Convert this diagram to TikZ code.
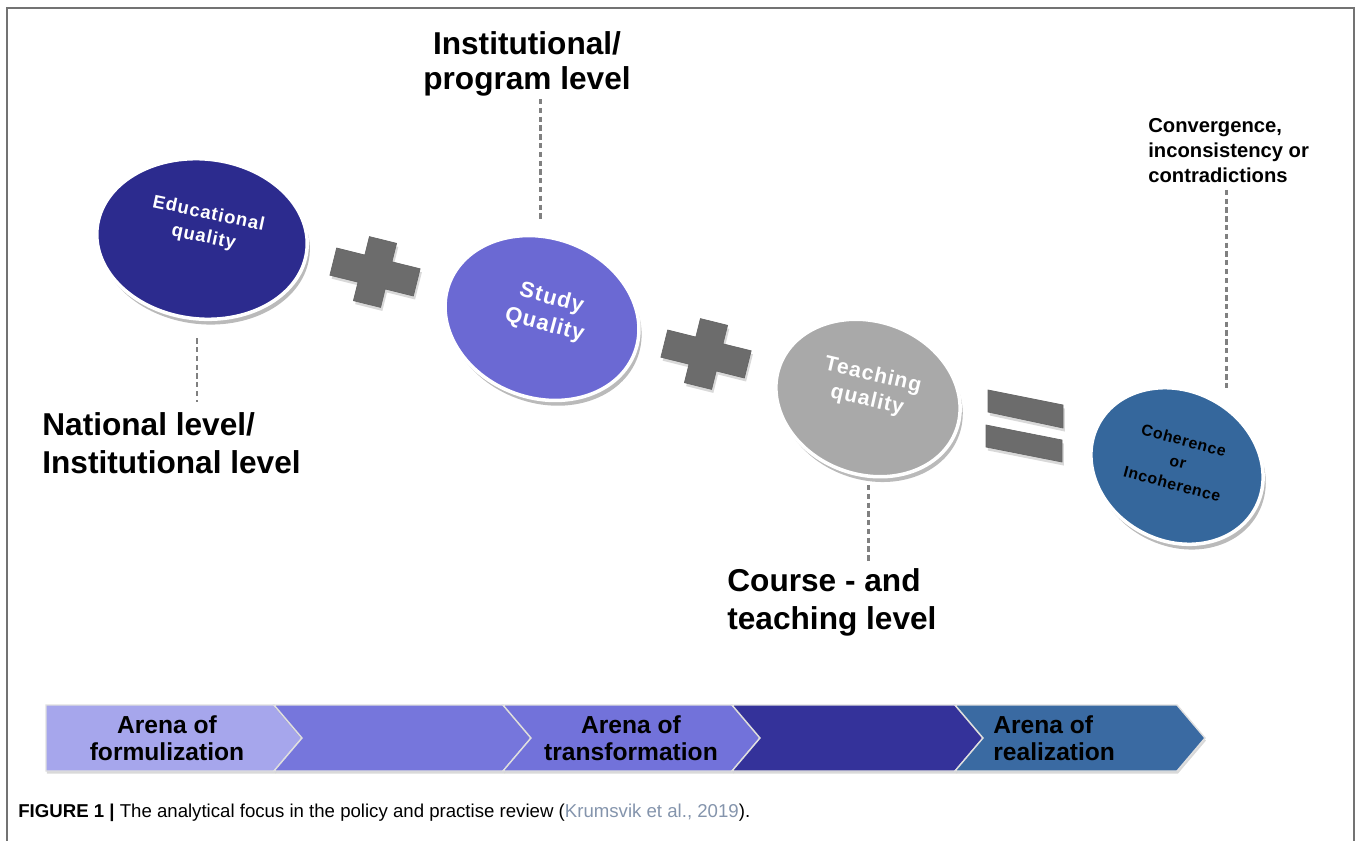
\documentclass[tikz,border=0pt]{standalone}
\usepackage{fontspec}
\setmainfont{Liberation Sans}
\usetikzlibrary{shapes.geometric,shadows}

\definecolor{edublue}{HTML}{2C2B8E}
\definecolor{studyblue}{HTML}{6B69D3}
\definecolor{teachgray}{HTML}{A9A9A9}
\definecolor{cohblue}{HTML}{35679C}
\definecolor{crossgray}{HTML}{6C6C6C}
\definecolor{linkgray}{HTML}{808080}
\definecolor{arenaA}{HTML}{A6A6EC}
\definecolor{arenaB}{HTML}{7676DC}
\definecolor{arenaC}{HTML}{7272DA}
\definecolor{arenaD}{HTML}{34329A}
\definecolor{arenaE}{HTML}{3A6AA2}
\definecolor{citegray}{HTML}{8494AC}

\tikzset{
	disc/.style={ellipse, draw=white, line width=2pt, inner sep=0pt,
		drop shadow={shadow xshift=1.5pt, shadow yshift=-3pt, opacity=.45, fill=black!60}},
	disctext/.style={text=white, align=center, inner sep=0pt},
	levellink/.style={linkgray, line width=1.7pt, dash pattern=on 3pt off 2pt},
	levellabel/.style={font=\bfseries\fontsize{18}{21.5}\selectfont, inner sep=0pt},
	arenatext/.style={font=\bfseries\fontsize{14}{15.3}\selectfont, inner sep=0pt},
}

% one piece of the arena band: colour, left end, right end, notch depth
\def\arenapiece#1#2#3#4{\fill[#1, draw=white!75!gray, line width=0.8pt, drop shadow={shadow xshift=0.5pt, shadow yshift=-1.5pt, opacity=.3}] (#2,705) -- (#3,705) -- (#3+28,738) -- (#3,771) -- (#2,771) -- (#2+#4,738) -- cycle;}
% a tilted plus sign: centre, angle
\def\plusmark(#1)(#2){\fill[crossgray, draw=black!60, line width=0.4pt, drop shadow={shadow xshift=1pt, shadow yshift=-2pt, opacity=.3}, shift={(#1)}, rotate=#2] (-14,-33) -- (14,-33) -- (14,-14) -- (43,-14) -- (43,14) -- (14,14) -- (14,33) -- (-14,33) -- (-14,14) -- (-43,14) -- (-43,-14) -- (-14,-14) -- cycle;}

\begin{document}
\begin{tikzpicture}[x=0.02cm, y=-0.02cm]
	%%%%% START %%%%%
	\useasboundingbox (0,0) rectangle (1358,841);
	\draw[line width=1.2pt, color=black!55] (7,841) -- (7,8) -- (1354,8) -- (1354,841);
	
	% the four qualities
	\node[disc, fill=edublue, minimum width=4.22cm, minimum height=3.2cm, rotate=-6] (edu) at (202,239) {};
	\node[disctext, rotate=-12, font=\bfseries\fontsize{10.5}{13.5}\selectfont\addfontfeatures{LetterSpace=5}] (edutxt) at (206,226) {Educational\\quality};
	
	\node[disc, fill=studyblue, minimum width=3.96cm, minimum height=3.2cm, rotate=-20] (study) at (542,318) {};
	\node[disctext, rotate=-15, font=\bfseries\fontsize{12.5}{15.5}\selectfont\addfontfeatures{LetterSpace=5}] (studytxt) at (548,312) {Study\\Quality};
	
	\node[disc, fill=teachgray, minimum width=3.76cm, minimum height=3.06cm, rotate=-20] (teach) at (868,398) {};
	\node[disctext, rotate=-13, font=\bfseries\fontsize{12}{14.5}\selectfont\addfontfeatures{LetterSpace=5}] (teachtxt) at (870,388) {Teaching\\quality};
	
	\node[disc, fill=cohblue, minimum width=3.56cm, minimum height=3.0cm, rotate=-28] (coh) at (1177,466) {};
	\node[disctext, text=black, rotate=-15, font=\bfseries\fontsize{9}{12.8}\selectfont\addfontfeatures{LetterSpace=4}] (cohtxt) at (1178,462) {Coherence\\or\\Incoherence};
	
	% plus, plus, equals
	\plusmark(375,272)(-14);
	\plusmark(706,354)(-14);
	\fill[crossgray, draw=black!60, line width=0.4pt, drop shadow={shadow xshift=1pt, shadow yshift=-2pt, opacity=.3}] (988,390) -- (1063,405) -- (1063,428) -- (988,412) -- cycle;
	\fill[crossgray, draw=black!60, line width=0.4pt, drop shadow={shadow xshift=1pt, shadow yshift=-2pt, opacity=.3}] (986,425) -- (1062,440) -- (1062,462) -- (986,447) -- cycle;
	
	% level labels
	\node[levellabel, anchor=north, align=center, font=\bfseries\fontsize{18}{19.8}\selectfont] (instlbl) at (527,31) {Institutional/\\program level};
	\node[levellabel, anchor=north west, align=left] (natlbl) at (42,412) {National level/\\Institutional level};
	\node[levellabel, anchor=north west, align=left] (courselbl) at (727,568) {Course - and\\teaching level};
	\node[anchor=north west, align=left, inner sep=0pt, font=\bfseries\fontsize{11.5}{14.2}\selectfont] (convlbl) at (1148,118) {Convergence,\\inconsistency or\\contradictions};
	
	\coordinate (natend) at (197,402);
	\coordinate (studytop) at (540,222);
	\coordinate (teachfoot) at (868,485);
	\coordinate (cohtop) at (1226,390);
	\draw[levellink] ([yshift=-0.36cm]edu.south -| natend) -- (natend);
	\draw[levellink] ([yshift=-0.06cm]instlbl.south -| studytop) -- (studytop);
	\draw[levellink] (teachfoot) -- ([yshift=0.14cm]teachfoot |- courselbl.north);
	\draw[levellink] ([yshift=-0.14cm]convlbl.south -| cohtop) -- (cohtop);
	
	% arena band
	\arenapiece{arenaA}{46}{274}{0}
	\arenapiece{arenaB}{274}{503}{28}
	\arenapiece{arenaC}{503}{732}{28}
	\arenapiece{arenaD}{732}{955}{28}
	\arenapiece{arenaE}{955}{1177}{28}
	\node[arenatext, align=center] (formul) at (167,738) {Arena of\\formulization};
	\node[arenatext, align=center] (transf) at (631,738) {Arena of\\transformation};
	\node[arenatext, align=left, anchor=west] (realiz) at (993,738) {Arena of\\realization};
	
	\node[anchor=base west, inner sep=0pt, font=\fontsize{10.6}{12}\selectfont] (caption) at (18,817) {\textbf{FIGURE 1 |} The analytical focus in the policy and practise review ({\color{citegray}Krumsvik et al., 2019}).};
	%%%%% END %%%%%
\end{tikzpicture}
\end{document}
